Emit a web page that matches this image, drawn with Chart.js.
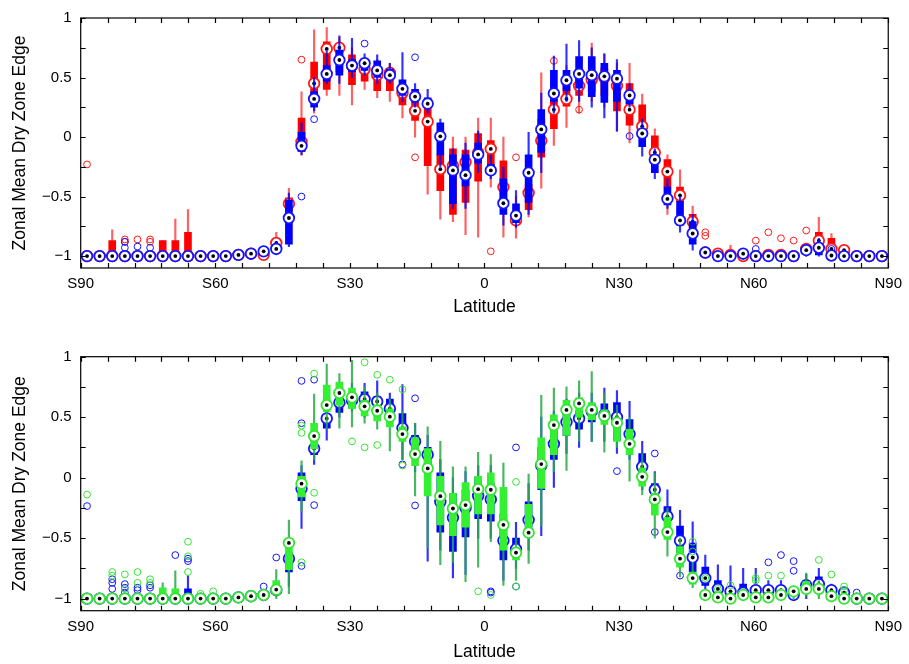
<!DOCTYPE html>
<html>
<head>
<meta charset="utf-8">
<script src="https://cdn.jsdelivr.net/npm/chart.js@4.4.1/dist/chart.umd.min.js"></script>
<style>
    html, body { margin: 0; padding: 0; background: #fff; }
    #wrap { position: relative; width: 909px; height: 664px; }
    canvas { position: absolute; left: 0; }
    #topChart { top: 0; }
    #bottomChart { top: 332px; }
</style>
</head>
<body>
<div id="wrap">
    <canvas id="topChart" width="909" height="332"></canvas>
    <canvas id="bottomChart" width="909" height="332"></canvas>
</div>
<script>
// Latitude bin centres (64 bins)
const lats = [
    -88.59, -85.78, -82.97, -80.16, -77.34, -74.53, -71.72, -68.91, -66.09, -63.28, -60.47, -57.66, -54.84, -52.03, -49.22, -46.41,
    -43.59, -40.78, -37.97, -35.16, -32.34, -29.53, -26.72, -23.91, -21.09, -18.28, -15.47, -12.66, -9.84, -7.03, -4.22, -1.41,
    1.41, 4.22, 7.03, 9.84, 12.66, 15.47, 18.28, 21.09, 23.91, 26.72, 29.53, 32.34, 35.16, 37.97, 40.78, 43.59,
    46.41, 49.22, 52.03, 54.84, 57.66, 60.47, 63.28, 66.09, 68.91, 71.72, 74.53, 77.34, 80.16, 82.97, 85.78, 88.59
];

const xTickValues = [-90, -60, -30, 0, 30, 60, 90];
const xTickLabels = ['S90', 'S60', 'S30', '0', 'N30', 'N60', 'N90'];
const yTickValues = [-1, -0.5, 0, 0.5, 1];
const yTickLabels = ['\u22121', '\u22120.5', '0', '0.5', '1'];
const xMinorStep = 6;
const yMinorStep = 0.25;

// ---- top panel, red series ----
const topRedLo = [
    -1, -1, -1, -1, -1, -1, -1, -1, -1, -1, -1, -1, -1, -1, -1, -0.95,
    -0.70, -0.15, 0.20, 0.35, 0.35, 0.27, 0.40, 0.33, 0.30, 0.16, 0.00, -0.48, -0.69, -0.71, -0.82, -0.84,
    -0.42, -0.84, -0.85, -0.67, -0.43, -0.07, 0.08, 0.20, 0.30, 0.25, 0.05, -0.05, -0.05, -0.25, -0.65, -0.60,
    -0.80, -1, -1, -1, -1, -1, -1, -1, -1, -1, -0.95, -0.97, -1, -1, -1, -1
];
const topRedQ1 = [
    -1, -1, -1, -1, -1, -1, -1, -1, -1, -1, -1, -1, -1, -0.99, -1, -0.93,
    -0.62, -0.12, 0.29, 0.40, 0.55, 0.44, 0.47, 0.39, 0.39, 0.27, 0.14, -0.24, -0.45, -0.65, -0.55, -0.37,
    -0.31, -0.55, -0.72, -0.61, -0.17, 0.07, 0.26, 0.35, 0.38, 0.35, 0.22, 0.10, 0.03, -0.18, -0.42, -0.54,
    -0.76, -1, -1, -1, -1, -1, -1, -1, -1, -0.97, -0.92, -0.94, -0.98, -1, -1, -1
];
const topRedMed = [
    -1, -1, -1, -1, -1, -1, -1, -1, -1, -1, -1, -1, -0.99, -0.98, -0.99, -0.89,
    -0.56, -0.04, 0.45, 0.74, 0.75, 0.60, 0.57, 0.52, 0.54, 0.37, 0.22, 0.13, -0.27, -0.24, -0.21, -0.13,
    -0.10, -0.42, -0.70, -0.47, -0.03, 0.23, 0.32, 0.43, 0.48, 0.50, 0.43, 0.23, 0.09, -0.13, -0.29, -0.49,
    -0.71, -0.97, -0.98, -0.99, -1, -1, -0.99, -0.99, -1, -0.94, -0.87, -0.94, -0.95, -1, -1, -1
];
const topRedQ3 = [
    -1, -1, -0.87, -1, -1, -1, -0.87, -0.87, -0.80, -1, -1, -1, -0.98, -0.97, -0.97, -0.86,
    -0.51, 0.16, 0.63, 0.80, 0.78, 0.69, 0.59, 0.59, 0.56, 0.40, 0.29, 0.26, -0.15, -0.10, -0.11, 0.03,
    -0.03, -0.20, -0.62, -0.40, 0.15, 0.32, 0.45, 0.55, 0.55, 0.58, 0.50, 0.45, 0.27, 0.01, -0.19, -0.42,
    -0.65, -0.96, -0.97, -0.98, -0.99, -1, -0.98, -0.98, -0.99, -0.92, -0.80, -0.85, -0.94, -1, -1, -1
];
const topRedHi = [
    -1, -1, -0.78, -1, -1, -1, -0.87, -0.69, -0.61, -1, -1, -1, -0.97, -0.96, -0.95, -0.80,
    -0.43, 0.38, 0.90, 0.92, 0.84, 0.75, 0.66, 0.65, 0.62, 0.48, 0.36, 0.33, 0.02, 0.00, 0.00, 0.16,
    0.16, 0.00, -0.50, -0.30, 0.54, 0.45, 0.60, 0.65, 0.79, 0.70, 0.62, 0.62, 0.36, 0.07, -0.15, -0.275,
    -0.58, -0.95, -0.96, -0.91, -0.98, -1, -0.97, -0.97, -0.98, -0.90, -0.675, -0.81, -0.93, -1, -1, -1
];
// [bin index, value]
const topRedOut = [
    [0, -0.23], [3, -0.86], [3, -0.88], [4, -0.86], [5, -0.86], [5, -0.88], [17, 0.65], [26, -0.17],
    [32, -0.96], [34, -0.17], [37, 0.64], [39, 0.23], [49, -0.80], [49, -0.83], [53, -0.87], [54, -0.80],
    [55, -0.85], [56, -0.87], [57, -0.785]
];

// ---- top panel, blue series ----
const topBlueLo = [
    -1, -1, -1, -1, -1, -1, -1, -1, -1, -1, -1, -1, -1, -1, -1, -0.97,
    -0.92, -0.15, 0.22, 0.45, 0.45, 0.50, 0.52, 0.45, 0.45, 0.30, 0.25, 0.20, -0.25, -0.60, -0.60, -0.30,
    -0.35, -0.74, -0.76, -0.65, -0.30, 0.20, 0.30, 0.30, 0.25, 0.16, 0.05, 0.25, -0.16, -0.35, -0.60, -0.80,
    -0.95, -1, -1, -1, -1, -1, -1, -1, -1, -1, -1, -1, -1, -1, -1, -1
];
const topBlueQ1 = [
    -1, -1, -1, -1, -1, -1, -1, -1, -1, -1, -1, -1, -1, -0.99, -0.98, -0.95,
    -0.90, -0.12, 0.25, 0.47, 0.52, 0.55, 0.56, 0.50, 0.48, 0.35, 0.29, 0.25, -0.15, -0.56, -0.41, -0.22,
    -0.31, -0.65, -0.72, -0.55, -0.13, 0.30, 0.39, 0.41, 0.34, 0.29, 0.30, 0.28, -0.08, -0.30, -0.57, -0.74,
    -0.90, -1, -1, -1, -1, -1, -1, -1, -1, -0.97, -0.99, -1, -1, -1, -1, -1
];
const topBlueMed = [
    -1, -1, -1, -1, -1, -1, -1, -1, -1, -1, -1, -1, -0.99, -0.98, -0.96, -0.94,
    -0.68, -0.074, 0.32, 0.53, 0.647, 0.60, 0.62, 0.56, 0.52, 0.405, 0.34, 0.28, 0.006, -0.28, -0.32, -0.146,
    -0.28, -0.556, -0.66, -0.30, 0.064, 0.366, 0.477, 0.53, 0.52, 0.51, 0.49, 0.35, 0.03, -0.19, -0.52, -0.70,
    -0.81, -0.97, -1, -1, -0.98, -1, -1, -1, -1, -0.95, -0.93, -0.995, -1, -1, -1, -1
];
const topBlueQ3 = [
    -1, -1, -1, -1, -1, -1, -1, -1, -1, -1, -1, -1, -0.98, -0.97, -0.95, -0.90,
    -0.53, 0.04, 0.38, 0.60, 0.73, 0.65, 0.65, 0.64, 0.57, 0.48, 0.40, 0.33, 0.12, -0.15, -0.15, -0.05,
    -0.23, -0.35, -0.56, -0.15, 0.23, 0.56, 0.56, 0.675, 0.675, 0.62, 0.56, 0.38, 0.06, -0.15, -0.42, -0.54,
    -0.71, -0.97, -1, -1, -0.97, -1, -1, -1, -1, -0.93, -0.90, -0.97, -1, -1, -1, -1
];
const topBlueHi = [
    -1, -1, -1, -1, -1, -1, -1, -1, -1, -1, -1, -1, -0.97, -0.96, -0.93, -0.88,
    -0.47, 0.12, 0.50, 0.72, 0.85, 0.83, 0.70, 0.69, 0.62, 0.71, 0.45, 0.40, 0.15, -0.10, -0.05, 0.05,
    -0.15, -0.25, -0.45, 0.04, 0.37, 0.68, 0.78, 0.81, 0.75, 0.70, 0.65, 0.45, 0.15, -0.10, -0.35, -0.50,
    -0.65, -0.97, -1, -1, -0.96, -1, -1, -1, -1, -0.92, -0.85, -0.96, -1, -1, -1, -1
];
const topBlueOut = [
    [3, -0.88], [3, -0.93], [4, -0.92], [5, -0.93], [17, -0.50], [18, 0.15], [22, 0.785], [26, 0.67],
    [43, 0.008], [53, -0.94], [59, -0.94]
];

// ---- bottom panel, blue series ----
const botBlueLo = [
    -1, -1, -1, -1, -1, -1, -1, -1, -1, -1, -1, -1, -1, -1, -1, -0.98,
    -0.90, -0.42, 0.11, 0.31, 0.50, 0.55, 0.50, 0.50, 0.45, 0.15, 0.05, -0.69, -0.60, -0.83, -0.80, -0.50,
    -0.50, -0.85, -0.75, -0.60, -0.48, -0.08, 0.20, 0.25, 0.30, 0.30, 0.20, 0.15, -0.10, -0.30, -0.45, -0.70,
    -0.85, -0.95, -1, -1, -1, -1, -1, -1, -1, -1, -0.97, -1, -1, -1, -1, -1
];
const botBlueQ1 = [
    -1, -1, -1, -1, -1, -1, -1, -1, -1, -1, -1, -1, -1, -0.99, -0.98, -0.96,
    -0.78, -0.19, 0.19, 0.41, 0.54, 0.58, 0.59, 0.55, 0.55, 0.38, 0.20, 0.05, -0.45, -0.61, -0.49, -0.34,
    -0.36, -0.68, -0.65, -0.41, -0.10, 0.15, 0.35, 0.40, 0.46, 0.48, 0.31, 0.34, 0.03, -0.16, -0.35, -0.62,
    -0.78, -0.89, -0.99, -0.98, -0.98, -0.97, -0.97, -0.97, -0.99, -0.93, -0.93, -0.97, -0.97, -1, -1, -1
];
const botBlueMed = [
    -1, -1, -1, -1, -1, -1, -1, -1, -1, -1, -1, -1, -0.99, -0.98, -0.97, -0.93,
    -0.67, -0.09, 0.24, 0.49, 0.62, 0.64, 0.65, 0.63, 0.57, 0.41, 0.30, 0.19, -0.20, -0.33, -0.25, -0.15,
    -0.18, -0.52, -0.59, -0.35, 0.10, 0.28, 0.46, 0.49, 0.55, 0.52, 0.50, 0.36, 0.09, -0.10, -0.32, -0.52,
    -0.66, -0.83, -0.92, -0.94, -0.95, -0.93, -0.93, -0.93, -0.97, -0.89, -0.88, -0.93, -0.95, -1, -1, -1
];
const botBlueQ3 = [
    -1, -1, -1, -1, -1, -1, -1, -1, -0.92, -1, -1, -1, -0.98, -0.97, -0.96, -0.90,
    -0.62, 0.04, 0.26, 0.52, 0.66, 0.70, 0.71, 0.67, 0.65, 0.53, 0.35, 0.25, 0.04, -0.13, -0.10, 0.00,
    -0.05, -0.30, -0.50, -0.20, 0.25, 0.40, 0.55, 0.55, 0.61, 0.61, 0.62, 0.48, 0.20, -0.05, -0.24, -0.40,
    -0.54, -0.74, -0.85, -0.90, -0.88, -0.90, -0.90, -0.90, -0.94, -0.85, -0.82, -0.90, -0.93, -1, -1, -1
];
const botBlueHi = [
    -1, -1, -1, -1, -1, -1, -1, -1, -0.81, -1, -1, -1, -0.97, -0.96, -0.95, -0.86,
    -0.50, 0.10, 0.40, 0.60, 0.75, 0.78, 0.78, 0.80, 0.70, 0.77, 0.45, 0.35, 0.15, 0.00, 0.05, 0.10,
    0.10, -0.10, -0.37, -0.05, 0.50, 0.55, 0.65, 0.70, 0.70, 0.74, 0.72, 0.63, 0.30, 0.05, -0.10, -0.27,
    -0.365, -0.64, -0.72, -0.73, -0.75, -0.75, -0.85, -0.85, -0.90, -0.80, -0.75, -0.88, -0.92, -1, -1, -1
];
const botBlueOut = [
    [0, -0.235], [2, -0.84], [2, -0.87], [2, -0.92], [3, -0.88], [3, -0.91], [3, -0.95], [4, -0.91],
    [4, -0.93], [5, -0.89], [5, -0.91], [7, -0.64], [8, -0.67], [8, -0.69], [14, -0.90], [15, -0.66],
    [17, 0.80], [17, 0.45], [17, -0.73], [18, 0.81], [18, -0.227], [25, 0.11], [26, 0.656], [26, -0.23],
    [32, -0.94], [32, -0.95], [34, 0.25], [34, -0.90], [42, 0.054], [45, 0.20], [45, -0.45], [47, -0.81],
    [54, -0.70], [55, -0.64], [56, -0.69], [56, -0.77], [61, -0.95]
];

// ---- bottom panel, green series ----
const botGreenLo = [
    -1, -1, -1, -1, -1, -1, -1, -1, -1, -1, -1, -1, -1, -1, -1, -1,
    -0.96, -0.28, 0.15, 0.40, 0.41, 0.42, 0.45, 0.40, 0.22, 0.15, -0.15, -0.58, -0.72, -0.70, -0.86, -0.74,
    -0.53, -0.89, -0.85, -0.71, -0.40, 0.05, 0.06, 0.30, 0.30, 0.21, 0.25, -0.03, -0.14, -0.50, -0.65, -0.82,
    -0.91, -1, -1, -1, -1, -1, -1, -1, -1, -0.98, -1, -1, -1, -1, -1, -1
];
const botGreenQ1 = [
    -1, -1, -1, -1, -1, -1, -1, -1, -1, -1, -1, -1, -1, -0.99, -0.98, -0.97,
    -0.76, -0.16, 0.24, 0.545, 0.60, 0.57, 0.51, 0.47, 0.42, 0.30, 0.10, -0.15, -0.39, -0.48, -0.41, -0.30,
    -0.30, -0.60, -0.68, -0.49, -0.09, 0.19, 0.35, 0.50, 0.48, 0.44, 0.30, 0.19, -0.07, -0.31, -0.51, -0.74,
    -0.88, -1, -1, -1, -1, -1, -1, -0.99, -0.97, -0.95, -0.95, -1, -1, -1, -1, -1
];
const botGreenMed = [
    -1, -1, -1, -1, -1, -1, -1, -1, -1, -1, -1, -1, -0.99, -0.98, -0.97, -0.925,
    -0.54, -0.05, 0.344, 0.60, 0.70, 0.664, 0.59, 0.553, 0.504, 0.36, 0.195, 0.076, -0.153, -0.255, -0.227, -0.095,
    -0.10, -0.39, -0.62, -0.455, 0.112, 0.435, 0.56, 0.614, 0.56, 0.51, 0.454, 0.28, 0.007, -0.18, -0.45, -0.67,
    -0.83, -0.97, -0.99, -1, -0.97, -0.99, -0.99, -0.97, -0.94, -0.92, -0.92, -0.98, -1, -1, -1, -1
];
const botGreenQ3 = [
    -1, -1, -1, -1, -1, -1, -0.91, -0.92, -1, -1, -1, -1, -0.98, -0.97, -0.96, -0.85,
    -0.52, 0.01, 0.45, 0.766, 0.79, 0.74, 0.64, 0.60, 0.57, 0.42, 0.33, 0.24, 0.01, -0.13, -0.04, 0.01,
    0.04, -0.08, -0.58, -0.22, 0.33, 0.52, 0.64, 0.66, 0.62, 0.56, 0.47, 0.40, 0.08, -0.13, -0.33, -0.57,
    -0.78, -0.95, -0.98, -0.99, -0.96, -0.98, -0.98, -0.95, -0.92, -0.86, -0.90, -0.96, -1, -1, -1, -1
];
const botGreenHi = [
    -1, -1, -1, -1, -1, -1, -0.87, -0.77, -1, -1, -1, -1, -0.97, -0.96, -0.94, -0.76,
    -0.35, 0.14, 0.69, 0.94, 0.86, 0.97, 0.75, 0.70, 0.65, 0.55, 0.45, 0.42, 0.30, 0.09, 0.09, 0.21,
    0.19, 0.12, -0.50, 0.03, 0.68, 0.74, 0.75, 0.80, 0.876, 0.70, 0.60, 0.50, 0.20, 0.04, -0.25, -0.50,
    -0.70, -0.93, -0.97, -0.98, -0.95, -0.97, -0.97, -0.93, -0.90, -0.79, -0.85, -0.95, -1, -1, -1, -1
];
const botGreenOut = [
    [0, -0.14], [2, -0.78], [2, -0.81], [3, -0.80], [3, -0.92], [4, -0.78], [4, -0.87], [5, -0.84],
    [5, -0.87], [8, -0.53], [8, -0.65], [8, -0.78], [9, -0.96], [10, -0.94], [17, 0.43], [17, 0.37],
    [17, -0.70], [18, 0.86], [18, -0.125], [21, 0.30], [22, 0.954], [22, 0.25], [23, 0.85], [23, 0.27],
    [24, 0.81], [25, 0.73], [25, 0.10], [31, -0.94], [32, -0.97], [34, -0.035], [34, -0.90], [48, -0.53],
    [48, -0.61], [49, -0.83], [50, -0.92], [51, -0.89], [53, -0.83], [53, -0.85], [54, -0.81], [55, -0.81],
    [58, -0.68], [59, -0.80], [60, -0.90], [60, -0.93]
];

const FONT = "'Liberation Sans', Arial, Helvetica, sans-serif";

const RED = { box: '#ff0000', whisker: 'rgba(255, 30, 30, 0.7)', ring: '#ff1a1a' };
const BLUE = { box: '#0000ff', whisker: 'rgba(0, 0, 255, 0.8)', ring: '#1414ff' };
const GREEN = { box: '#33f033', whisker: 'rgba(40, 170, 70, 0.85)', ring: '#33e633' };

// Build the datasets that make one compact box plot series
function boxDatasets(lo, q1, med, q3, hi, outliers, colors, baseOrder) {
    const floating = (a, b) => lats.map((x, i) => ({ x: x, y: [a[i], b[i]] }));
    const points = arr => lats.map((x, i) => ({ x: x, y: arr[i] }));

    return [
        {
            type: 'bar', data: floating(lo, hi), backgroundColor: colors.whisker,
            barThickness: 1.5, grouped: false, order: baseOrder + 4
        },
        {
            type: 'bar', data: floating(q1, q3), backgroundColor: colors.box,
            barThickness: 7, grouped: false, order: baseOrder + 3
        },
        {
            type: 'scatter', data: outliers.map(([i, v]) => ({ x: lats[i], y: v })),
            pointRadius: 3.4, borderWidth: 1, borderColor: colors.ring,
            backgroundColor: 'rgba(0,0,0,0)', order: baseOrder + 2
        },
        {
            type: 'scatter', data: points(med), pointRadius: 5.3, borderWidth: 1.8,
            borderColor: colors.ring, backgroundColor: '#ffffff', order: baseOrder + 1
        },
        {
            type: 'scatter', data: points(med), pointRadius: 1.9, borderWidth: 0,
            backgroundColor: '#000000', order: baseOrder
        }
    ];
}

// Frame and inward tick marks (MATLAB style box)
const frameTicks = {
    id: 'frameTicks',
    afterDraw(chart) {
        const { ctx, chartArea: a, scales: { x, y } } = chart;
        const len = 5;
        ctx.save();
        ctx.strokeStyle = '#000';
        ctx.lineWidth = 1.2;
        ctx.strokeRect(a.left, a.top, a.right - a.left, a.bottom - a.top);
        ctx.beginPath();
        for (let v = x.min; v <= x.max + 1e-9; v += xMinorStep) {
            const px = Math.round(x.getPixelForValue(v)) + 0.5;
            ctx.moveTo(px, a.bottom); ctx.lineTo(px, a.bottom - len);
            ctx.moveTo(px, a.top); ctx.lineTo(px, a.top + len);
        }
        for (let v = -1; v <= 1 + 1e-9; v += yMinorStep) {
            const py = Math.round(y.getPixelForValue(v)) + 0.5;
            ctx.moveTo(a.left, py); ctx.lineTo(a.left + len, py);
            ctx.moveTo(a.right, py); ctx.lineTo(a.right - len, py);
        }
        ctx.stroke();
        ctx.restore();
    }
};

function createPanel(canvasId, datasets, layout) {
    const ctx = document.getElementById(canvasId).getContext('2d');

    return new Chart(ctx, {
        type: 'bar',
        data: { datasets: datasets },
        options: {
            responsive: false,
            animation: false,
            events: [],
            layout: { padding: { top: layout.top, right: 16.3, left: 0, bottom: 0 } },
            plugins: { legend: { display: false }, tooltip: { enabled: false } },
            scales: {
                x: {
                    type: 'linear', min: -90, max: 90, offset: false,
                    grid: { display: false, drawTicks: false },
                    border: { display: false },
                    afterBuildTicks: s => { s.ticks = xTickValues.map(v => ({ value: v })); },
                    afterFit: s => { s.height = layout.xHeight; },
                    ticks: {
                        autoSkip: false, maxRotation: 0, padding: 7, color: '#000',
                        font: { family: FONT, size: 15 },
                        callback: v => xTickLabels[xTickValues.indexOf(v)]
                    },
                    title: {
                        display: true, text: 'Latitude', color: '#000',
                        font: { family: FONT, size: 17.5 },
                        padding: { top: 0, bottom: layout.titlePad }
                    }
                },
                y: {
                    type: 'linear', min: -1.1, max: 1,
                    grid: { display: false, drawTicks: false },
                    border: { display: false },
                    afterBuildTicks: s => { s.ticks = yTickValues.map(v => ({ value: v })); },
                    afterFit: s => { s.width = 80.7; },
                    ticks: {
                        padding: 9, color: '#000',
                        font: { family: FONT, size: 15 },
                        callback: v => yTickLabels[yTickValues.indexOf(v)]
                    },
                    title: {
                        display: true, text: 'Zonal Mean Dry Zone Edge', color: '#000',
                        font: { family: FONT, size: 17.5 },
                        padding: { top: 10, bottom: 0 }
                    }
                }
            }
        },
        plugins: [frameTicks]
    });
}

// Top panel: red underneath, blue on top
createPanel('topChart', [
    ...boxDatasets(topRedLo, topRedQ1, topRedMed, topRedQ3, topRedHi, topRedOut, RED, 10),
    ...boxDatasets(topBlueLo, topBlueQ1, topBlueMed, topBlueQ3, topBlueHi, topBlueOut, BLUE, 1)
], { top: 14, xHeight: 64, titlePad: 14.5 });

// Bottom panel: blue underneath, green on top
createPanel('bottomChart', [
    ...boxDatasets(botBlueLo, botBlueQ1, botBlueMed, botBlueQ3, botBlueHi, botBlueOut, BLUE, 10),
    ...boxDatasets(botGreenLo, botGreenQ1, botGreenMed, botGreenQ3, botGreenHi, botGreenOut, GREEN, 1)
], { top: 24.7, xHeight: 53.3, titlePad: 1.5 });
</script>
</body>
</html>
